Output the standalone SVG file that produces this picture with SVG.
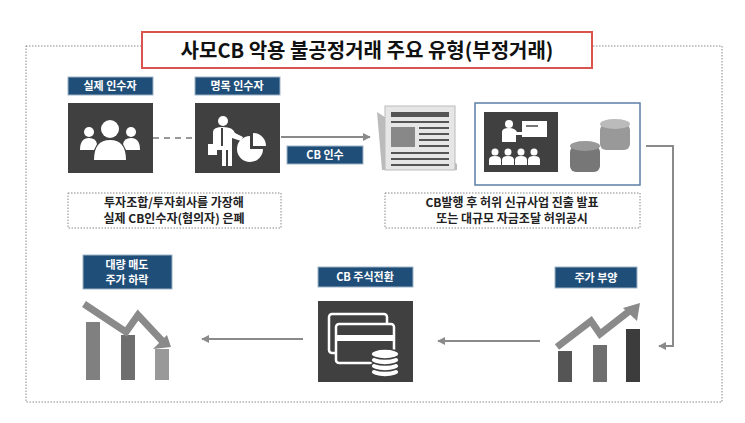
<svg xmlns="http://www.w3.org/2000/svg" width="745" height="423" viewBox="0 0 745 423">
<style>
text{font-family:"Noto Sans CJK KR","Noto Sans",sans-serif;}
.lbl{fill:#1f4e79;stroke:#9db3c8;stroke-width:1}
.lt{fill:#fff;font-size:11px;font-weight:bold;text-anchor:middle}
.dk{fill:#404040}
.dt{fill:none;stroke:#888;stroke-width:1;stroke-dasharray:1.5 1.5}
.bt{fill:#222;font-size:12px;font-weight:bold;text-anchor:middle}
.ln{stroke:#8a8a8a;stroke-width:2;fill:none}
</style>
<defs>
<marker id="ah" viewBox="0 0 10 10" refX="9" refY="5" markerWidth="4" markerHeight="4" orient="auto"><path d="M0,0L10,5L0,10z" fill="#8a8a8a"/></marker>
</defs>
<rect width="745" height="423" fill="#fff"/>
<rect x="26" y="46" width="696" height="356" class="dt"/>
<g id="title">
<rect x="142" y="32" width="450" height="36" fill="#fff" stroke="#d9534f" stroke-width="2"/>
<text x="367" y="58" font-size="20" font-weight="bold" text-anchor="middle" fill="#111">사모CB 악용 불공정거래 주요 유형(부정거래)</text>
</g>
<g id="connectors">
<line x1="153" y1="138" x2="195" y2="138" stroke="#999" stroke-width="2" stroke-dasharray="6 5"/>
<line x1="281" y1="137" x2="370" y2="137" class="ln" marker-end="url(#ah)"/>
<polyline points="646,146 673,146 673,346 659,346" class="ln" marker-end="url(#ah)"/>
<line x1="540" y1="341" x2="438" y2="341" class="ln" marker-end="url(#ah)"/>
<line x1="303" y1="339" x2="202" y2="339" class="ln" marker-end="url(#ah)"/>
</g>
<g id="actual">
<rect x="68" y="77" width="85" height="18" class="lbl"/><text x="110" y="90" class="lt">실제 인수자</text>
<rect x="68" y="103" width="85" height="70" class="dk"/>
<g fill="#fff"><circle cx="110" cy="129" r="9"/><path d="M94,160q0,-20 16,-20q16,0 16,20z"/>
<circle cx="89" cy="132" r="5"/><path d="M80,150q0,-12 9,-12q7,0 8,6l-3,6z"/>
<circle cx="131" cy="132" r="5"/><path d="M140,150q0,-12 -9,-12q-7,0 -8,6l3,6z"/></g>
</g>
<g id="nominal">
<rect x="195" y="77" width="85" height="18" class="lbl"/><text x="237" y="90" class="lt">명목 인수자</text>
<rect x="195" y="103" width="85" height="70" class="dk"/>
<g fill="#fff"><circle cx="223" cy="121" r="5"/><path d="M213,150l0,-18q0,-5 10,-5q10,0 12,6l8,4l-2,4l-9,-3l0,28l-4,0l0,-16l-2,0l0,16l-4,0l0,-16z"/>
<rect x="208" y="144" width="9" height="11"/>
<path d="M250,136a13,13 0 1,0 13,13l-13,0z"/><path d="M253,133a13,13 0 0,1 13,13l-13,0z"/></g>
<rect x="221" y="128" width="2" height="18" fill="#404040"/>
</g>
<g id="cbbuy"><rect x="287" y="146" width="76" height="18" class="lbl"/><text x="325" y="159" class="lt">CB 인수</text></g>
<g id="news">
<path d="M377,112l5,58l75,0l0,-6z" fill="#bbb"/>
<rect x="385" y="106" width="70" height="64" fill="#e6e6e6" stroke="#bbb"/>
<g fill="#555"><rect x="391" y="112" width="58" height="5"/><rect x="391" y="121" width="58" height="2"/>
<rect x="391" y="127" width="24" height="20" fill="#888"/>
<rect x="419" y="127" width="30" height="2"/><rect x="419" y="133" width="30" height="2"/><rect x="419" y="139" width="30" height="2"/><rect x="419" y="145" width="30" height="2"/>
<rect x="391" y="152" width="58" height="2"/><rect x="391" y="158" width="58" height="2"/><rect x="391" y="164" width="58" height="2"/></g>
</g>
<g id="announce">
<rect x="475" y="103" width="165" height="82" fill="#fff" stroke="#5b7fa6" stroke-width="1.5"/>
<rect x="484" y="112" width="74" height="60" class="dk"/>
<g fill="#fff"><circle cx="509" cy="124" r="4"/><path d="M502,142l0,-10q0,-4 7,-4q6,0 8,4l5,0l0,3l-6,0l0,7z"/>
<rect x="522" y="121" width="25" height="16"/>
<circle cx="495" cy="152" r="3.5"/><path d="M489,165l0,-5q0,-4 6,-4q6,0 6,4l0,5z"/>
<circle cx="508" cy="152" r="3.5"/><path d="M502,165l0,-5q0,-4 6,-4q6,0 6,4l0,5z"/>
<circle cx="521" cy="152" r="3.5"/><path d="M515,165l0,-5q0,-4 6,-4q6,0 6,4l0,5z"/>
<circle cx="534" cy="152" r="3.5"/><path d="M528,165l0,-5q0,-4 6,-4q6,0 6,4l0,5z"/></g>
<rect x="526" y="125" width="12" height="2" fill="#777"/>
<g fill="#777"><rect x="570" y="146" width="30" height="26" rx="6"/><ellipse cx="585" cy="146" rx="15" ry="5" fill="#999"/>
<rect x="600" y="124" width="30" height="26" rx="6" fill="#999"/><ellipse cx="615" cy="124" rx="15" ry="5" fill="#bbb"/></g>
</g>
<g id="note1"><rect x="68" y="193" width="213" height="35" class="dt"/>
<text x="174" y="207" class="bt">투자조합/투자회사를 가장해</text><text x="174" y="223" class="bt">실제 CB인수자(혐의자) 은폐</text></g>
<g id="note2"><rect x="385" y="193" width="255" height="35" class="dt"/>
<text x="512" y="207" class="bt">CB발행 후 허위 신규사업 진출 발표</text><text x="512" y="223" class="bt">또는 대규모 자금조달 허위공시</text></g>
<g id="fall">
<rect x="83" y="255" width="89" height="34" class="lbl"/><text x="127" y="269" class="lt">대량 매도</text><text x="127" y="284" class="lt">주가 하락</text>
<rect x="86" y="322" width="14" height="58" fill="#808080"/><rect x="121" y="335" width="14" height="45" fill="#6e6e6e"/><rect x="155" y="349" width="14" height="31" fill="#999"/>
<polyline points="84,304 126,332 138,315 165,344" fill="none" stroke="#8a8a8a" stroke-width="7"/>
<path d="M171,347l-18,2l14,-14z" fill="#8a8a8a"/>
</g>
<g id="convert">
<rect x="318" y="267" width="95" height="20" class="lbl"/><text x="365" y="281" class="lt">CB 주식전환</text>
<rect x="318" y="301" width="95" height="81" class="dk"/>
<g fill="none" stroke="#fff" stroke-width="2.5"><rect x="329" y="314" width="58" height="39" rx="3"/><rect x="336" y="324" width="58" height="39" rx="3" fill="#404040"/></g>
<rect x="337" y="335" width="56" height="6" fill="#fff"/>
<g fill="#fff" stroke="#404040" stroke-width="1.5"><ellipse cx="385" cy="372" rx="14" ry="5"/><ellipse cx="385" cy="366" rx="14" ry="5"/><ellipse cx="385" cy="360" rx="14" ry="5"/><ellipse cx="385" cy="354" rx="14" ry="5"/></g>
</g>
<g id="rise">
<rect x="555" y="267" width="82" height="21" class="lbl"/><text x="596" y="282" class="lt">주가 부양</text>
<rect x="558" y="351" width="14" height="31" fill="#555"/><rect x="593" y="345" width="14" height="37" fill="#6e6e6e"/><rect x="626" y="329" width="14" height="53" fill="#3c3c3c"/>
<polyline points="557,347 591,321 600,334 632,309" fill="none" stroke="#8a8a8a" stroke-width="7"/>
<path d="M640,303l-3,18l-14,-13z" fill="#8a8a8a"/>
</g>
</svg>
